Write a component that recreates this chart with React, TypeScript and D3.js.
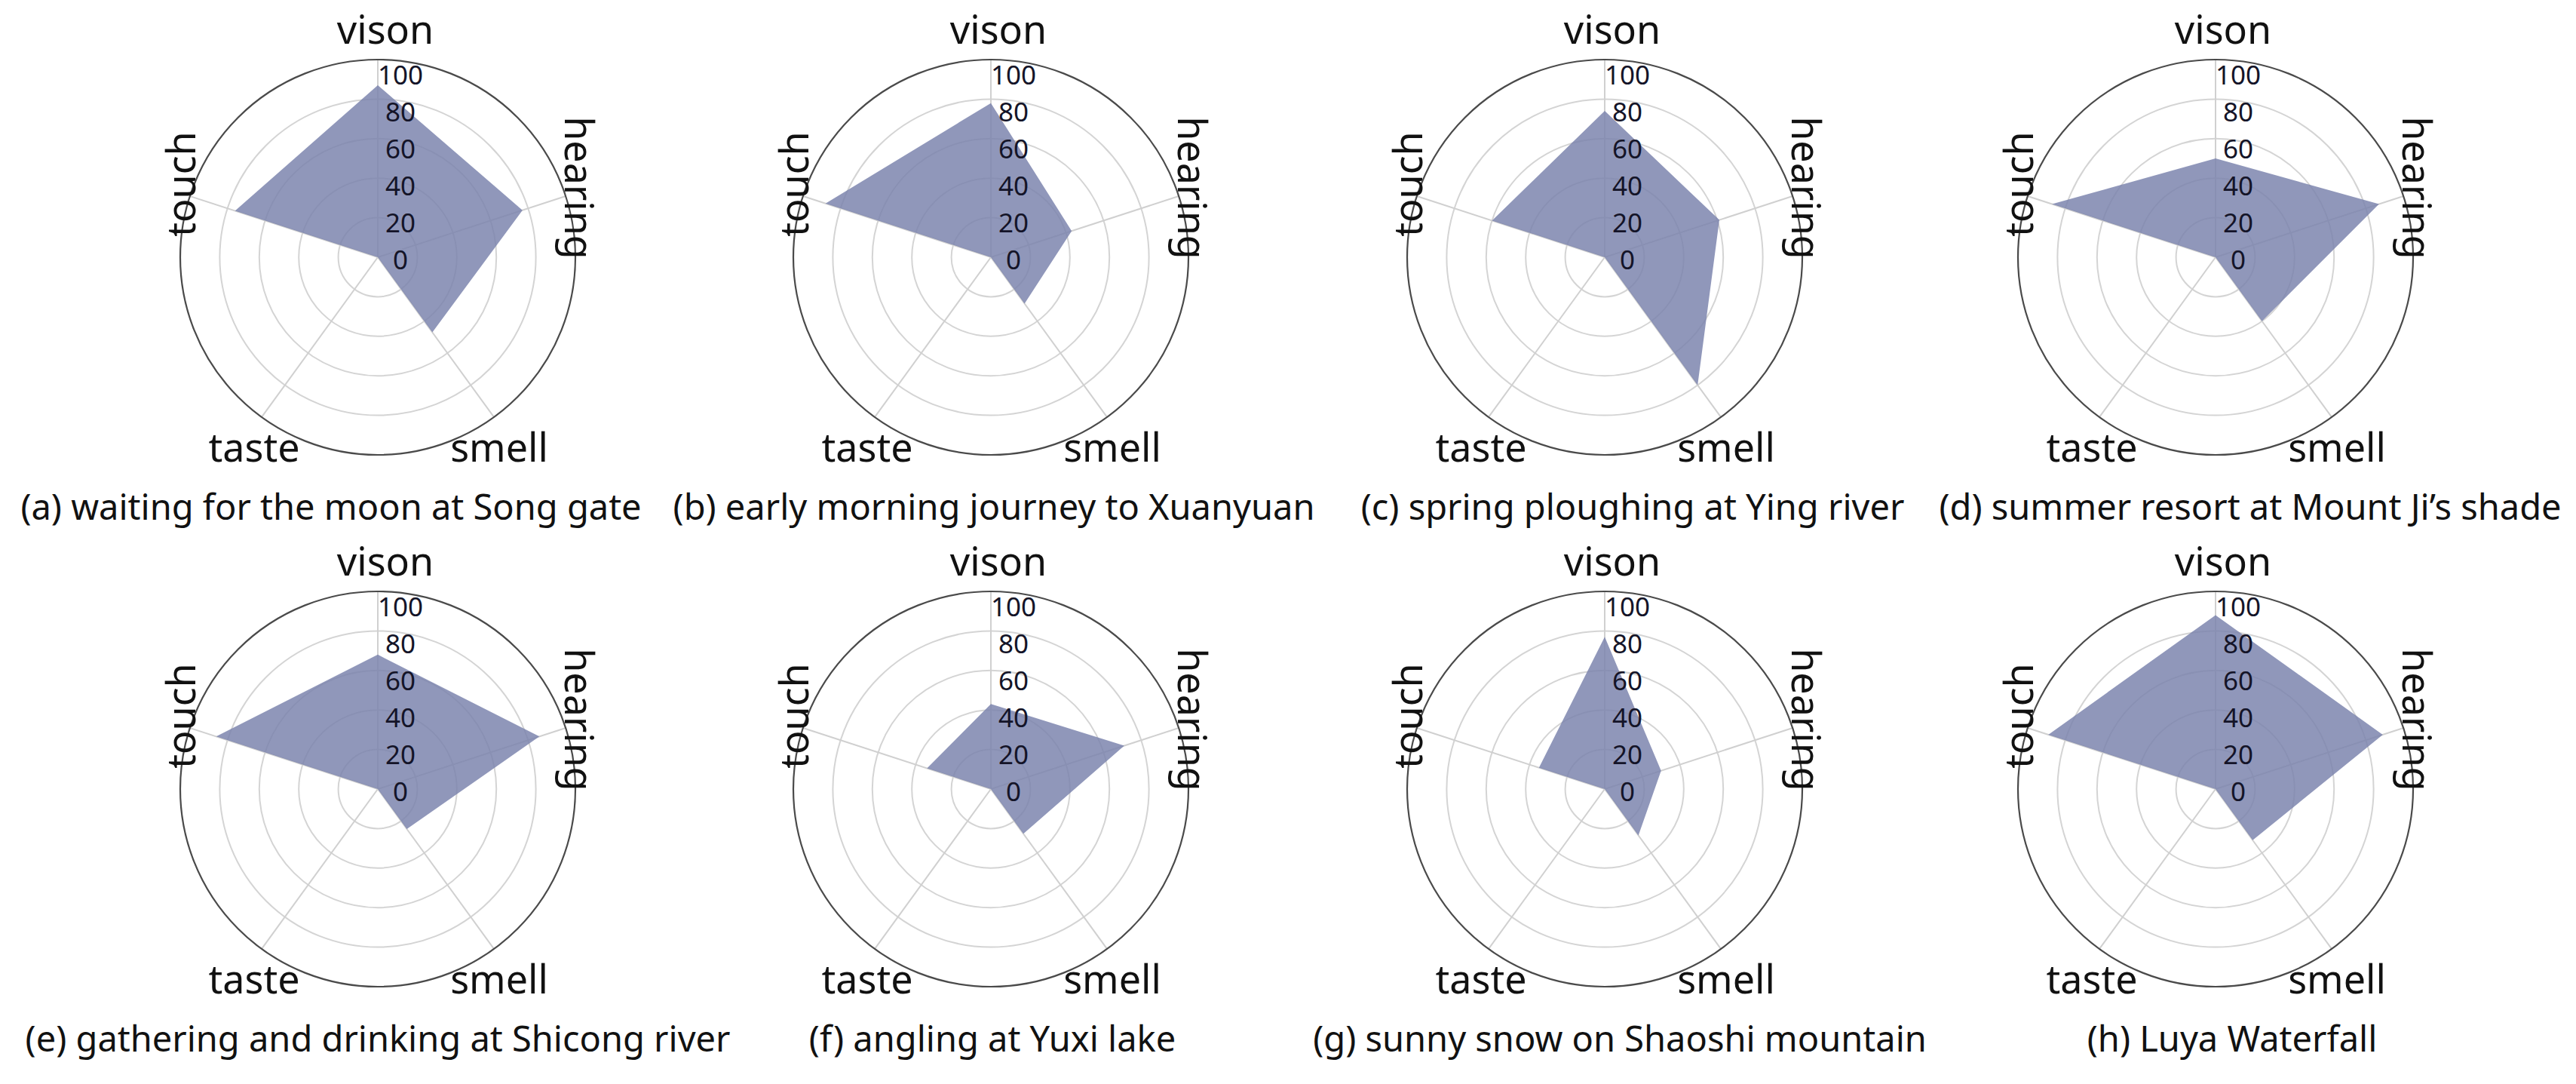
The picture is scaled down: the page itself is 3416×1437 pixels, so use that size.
import React from 'react';
import * as d3 from 'd3';

// five senses, clockwise from the top
const AXES = ['vison', 'hearing', 'smell', 'taste', 'touch'];
const TICKS = [0, 20, 40, 60, 80, 100];

const TITLES = [
  '(a) waiting for the moon at Song gate',
  '(b) early morning journey to Xuanyuan',
  '(c) spring ploughing at Ying river',
  "(d) summer resort at Mount Ji\u2019s shade",
  '(e) gathering and drinking at Shicong river',
  '(f) angling at Yuxi lake',
  '(g) sunny snow on Shaoshi mountain',
  '(h) Luya Waterfall',
];

// one value per scene, same order as TITLES
const VISON = [87, 78, 74, 50, 68, 43, 77, 88];
const HEARING = [77, 43, 61, 87, 86, 71, 30, 89];
const SMELL = [47, 29, 80, 40, 25, 28, 29, 32];
const TASTE = [0, 0, 0, 0, 0, 0, 0, 0];
const TOUCH = [76, 88, 60, 87, 86, 34, 35, 89];

const W = 3416;
const H = 1437;
const R = 262;
const COL_X = [501, 1314, 2128, 2938];
const ROW_Y = [341, 1046];
// captions are not always centred under their chart
const CAPTION_SHIFT = [-62, 4, 37, 46, 0, 2, 20, 22];

const FONT = '"Noto Sans", "Open Sans", sans-serif';
const NAME_SIZE = 52;

const rScale = d3.scaleLinear().domain([0, 100]).range([0, R]);
// tick labels sit a little tighter than the rings
const labelScale = d3.scaleLinear().domain([0, 100]).range([4, -241]);
const angle = (i: number) => (i * 2 * Math.PI) / AXES.length;

const radarLine = d3
  .lineRadial<number>()
  .angle((_, i) => angle(i))
  .radius((d) => rScale(d))
  .curve(d3.curveLinearClosed);

const Radar = ({ idx }: { idx: number }) => {
  const cx = COL_X[idx % 4];
  const cy = ROW_Y[Math.floor(idx / 4)];
  const values = [VISON[idx], HEARING[idx], SMELL[idx], TASTE[idx], TOUCH[idx]];

  return (
    <g transform={`translate(${cx},${cy})`}>
      {/* rings */}
      {TICKS.filter((t) => t > 0 && t < 100).map((t) => (
        <circle key={t} r={rScale(t)} fill="none" stroke="#d4d4d4" strokeWidth={2} />
      ))}
      {/* spokes */}
      {AXES.map((a, i) => {
        const [x, y] = d3.pointRadial(angle(i), rScale(100));
        return <line key={a} x1={0} y1={0} x2={x} y2={y} stroke="#d0d0d0" strokeWidth={2} />;
      })}
      <circle r={rScale(100)} fill="none" stroke="#4a4a4a" strokeWidth={2.2} />

      <path d={radarLine(values) || ''} fill="#7b83ad" fillOpacity={0.84} stroke="none" />

      {/* tick labels along the vison axis */}
      {TICKS.map((t) => (
        <text
          key={t}
          x={30}
          y={labelScale(t) + 12}
          textAnchor="middle"
          fontSize={35}
          fontFamily={FONT}
          fill="#141428"
        >
          {t}
        </text>
      ))}

      {/* axis names */}
      <text x={10} y={-283} textAnchor="middle" fontSize={NAME_SIZE} fontFamily={FONT} fill="#111">
        {AXES[0]}
      </text>
      <text
        transform={`translate(248,-92) rotate(90)`}
        textAnchor="middle"
        fontSize={NAME_SIZE}
        fontFamily={FONT}
        fill="#111"
      >
        {AXES[1]}
      </text>
      <text x={161} y={271} textAnchor="middle" fontSize={NAME_SIZE} fontFamily={FONT} fill="#111">
        {AXES[2]}
      </text>
      <text x={-164} y={271} textAnchor="middle" fontSize={NAME_SIZE} fontFamily={FONT} fill="#111">
        {AXES[3]}
      </text>
      <text
        transform={`translate(-242,-97) rotate(-90)`}
        textAnchor="middle"
        fontSize={NAME_SIZE}
        fontFamily={FONT}
        fill="#111"
      >
        {AXES[4]}
      </text>

      <text
        x={CAPTION_SHIFT[idx]}
        y={348}
        textAnchor="middle"
        fontSize={47}
        fontFamily={FONT}
        fill="#111"
      >
        {TITLES[idx]}
      </text>
    </g>
  );
};

export default function App() {
  return (
    <svg
      width={W}
      height={H}
      style={{ position: 'absolute', left: 0, top: 0, display: 'block', background: '#fff' }}
    >
      <rect width={W} height={H} fill="#fff" />
      {TITLES.map((_, i) => (
        <Radar key={i} idx={i} />
      ))}
    </svg>
  );
}
